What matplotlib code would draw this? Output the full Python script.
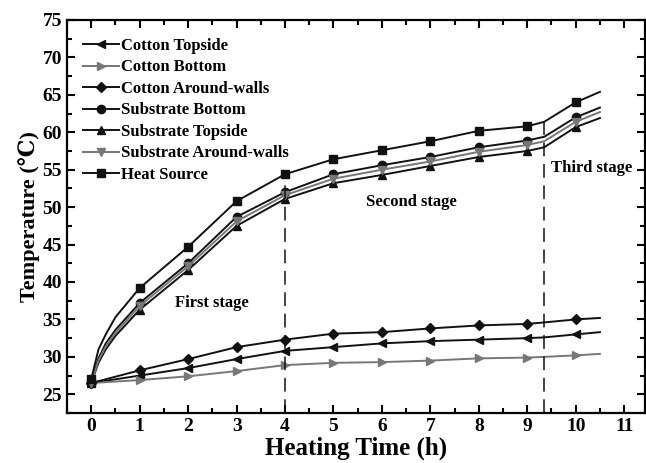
import matplotlib
matplotlib.use("Agg")
import matplotlib.pyplot as plt
from matplotlib.ticker import MultipleLocator

plt.rcParams['font.family'] = ['Liberation Serif', 'DejaVu Serif']
plt.rcParams['font.weight'] = 'bold'

# ---- data ----
hours_s = [0, 0.15, 0.3, 0.5, 1, 2, 3, 4, 5, 6, 7, 8, 9, 9.35, 10, 10.5]
marks_s = [0, 4, 5, 6, 7, 8, 9, 10, 11, 12, 14]
heat_source = [27.0, 31.0, 33.0, 35.3, 39.2, 44.7, 50.8, 54.4, 56.4, 57.6, 58.8, 60.2, 60.8, 61.4, 64.0, 65.4]
sub_bottom = [26.5, 29.8, 31.8, 33.6, 37.2, 42.5, 48.7, 52.0, 54.4, 55.6, 56.7, 58.0, 58.9, 59.4, 62.0, 63.3]
sub_walls = [26.5, 29.5, 31.4, 33.2, 36.8, 42.1, 48.1, 51.6, 53.8, 55.0, 56.1, 57.4, 58.3, 58.8, 61.4, 62.7]
sub_top = [26.5, 29.2, 31.0, 32.8, 36.3, 41.6, 47.5, 51.1, 53.2, 54.3, 55.5, 56.7, 57.5, 58.0, 60.7, 61.9]

hours_c = [0, 1, 2, 3, 4, 5, 6, 7, 8, 9, 9.35, 10, 10.5]
marks_c = [0, 1, 2, 3, 4, 5, 6, 7, 8, 9, 11]
cot_top = [26.5, 27.5, 28.5, 29.7, 30.8, 31.3, 31.8, 32.1, 32.3, 32.5, 32.6, 33.0, 33.3]
cot_bottom = [26.5, 26.9, 27.4, 28.1, 28.9, 29.2, 29.3, 29.5, 29.8, 29.9, 30.0, 30.2, 30.4]
cot_walls = [26.5, 28.2, 29.7, 31.3, 32.3, 33.1, 33.3, 33.8, 34.2, 34.4, 34.6, 35.0, 35.2]

stage_bounds = [4, 9.35]
stage_labels = ["First stage", "Second stage", "Third stage"]
stage_pos = [(2.48, 37.2), (6.6, 50.7), (10.32, 55.2)]

BLACK = "#111111"
GRAY = "#777777"

fig = plt.figure(figsize=(6.46, 4.63), dpi=100)
ax = fig.add_axes([67/646, 1-413/463, (645-67)/646, (413-20)/463])

series = [
    ("Cotton Topside", hours_c, cot_top, marks_c, "<", BLACK, 6),
    ("Cotton Bottom", hours_c, cot_bottom, marks_c, ">", GRAY, 6),
    ("Cotton Around-walls", hours_c, cot_walls, marks_c, "D", BLACK, 5.5),
    ("Substrate Bottom", hours_s, sub_bottom, marks_s, "o", BLACK, 6),
    ("Substrate Topside", hours_s, sub_top, marks_s, "^", BLACK, 6),
    ("Substrate Around-walls", hours_s, sub_walls, marks_s, "v", GRAY, 6),
    ("Heat Source", hours_s, heat_source, marks_s, "s", BLACK, 5.5),
]
for name, x, y, mk, m, c, ms in series:
    ax.plot(x, y, color=c, marker=m, markevery=mk, markersize=ms, lw=1.4,
            label=name, markeredgecolor=c, markerfacecolor=c)

ax.set_xlim(-0.5, 11.43)
ax.set_ylim(22.5, 75)

for b in stage_bounds:
    top = None
    for h, v in zip(hours_s, heat_source):
        if abs(h - b) < 1e-9:
            top = v
    ax.vlines(b, 22.5, top, colors=BLACK, linestyles=(0, (9, 5)), lw=1.1)

for lab, (px, py) in zip(stage_labels, stage_pos):
    ax.text(px, py, lab, ha="center", va="center", fontsize=12, fontweight="bold")

ax.xaxis.set_major_locator(MultipleLocator(1))
ax.xaxis.set_minor_locator(MultipleLocator(0.5))
ax.yaxis.set_major_locator(MultipleLocator(5))
ax.yaxis.set_minor_locator(MultipleLocator(2.5))
ax.tick_params(which="both", direction="in", top=True, right=True, width=1.5)
ax.tick_params(which="major", length=6, labelsize=14)
ax.tick_params(which="minor", length=3.5)
for lbl in ax.get_xticklabels() + ax.get_yticklabels():
    lbl.set_fontweight("bold")
for s in ax.spines.values():
    s.set_linewidth(1.6)

ax.set_xlabel("Heating Time (h)", fontsize=18, fontweight="bold", labelpad=1)
ax.set_ylabel("Temperature (℃)", fontsize=16, fontweight="bold", labelpad=2)

leg = ax.legend(loc="upper left", bbox_to_anchor=(0.01, 0.98), frameon=False,
                fontsize=12, handlelength=2.2, handletextpad=0.1,
                labelspacing=0.33, borderaxespad=0.2)
for t in leg.get_texts():
    t.set_fontweight("bold")

fig.savefig("out.png", dpi=100)
